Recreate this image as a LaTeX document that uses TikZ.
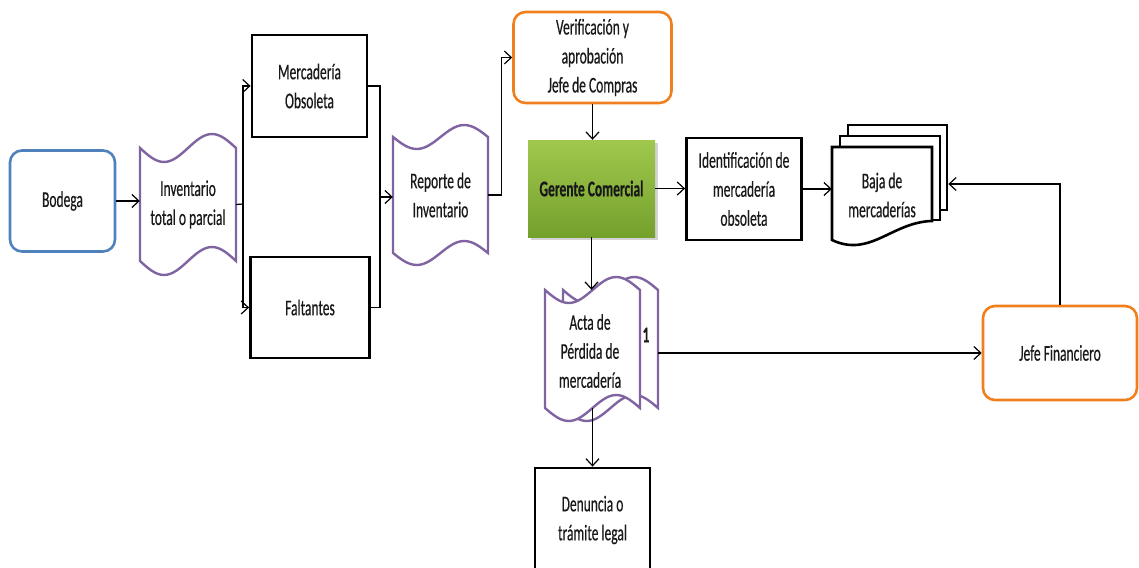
\documentclass[tikz,border=0pt]{standalone}
\usepackage{fontspec}
\setmainfont{Carlito}[FakeStretch=0.6, FakeBold=0.4]
\usetikzlibrary{arrows.meta,shadows}

\definecolor{bodegablue}{RGB}{79,129,189}
\definecolor{tapepurple}{RGB}{128,100,162}
\definecolor{roleorange}{RGB}{240,128,30}
\definecolor{greentop}{RGB}{160,200,78}
\definecolor{greenbot}{RGB}{116,160,44}

\tikzset{
  every node/.style={font=\fontsize{22.5}{29}\selectfont, align=center, inner sep=0pt, text=black!90},
  procbox/.style={draw=black, line width=2.8pt, fill=white},
  roundbox/.style={draw, line width=2.6pt, rounded corners=12pt, fill=white},
  tapeline/.style={draw=tapepurple, line width=2.4pt, fill=white},
  docline/.style={draw=black, line width=2.6pt, fill=white},
  link/.style={draw=black, line width=1.2pt},
  flow/.style={link, -{Straight Barb[length=7pt,width=13pt,line width=1.2pt]}},
}

% punched tape outline: left x, right x, top mid y, bottom mid y, wave amplitude
\newcommand\tapeshape[5]{%
  \pgfmathsetmacro\tqa{#1+(#2-#1)/4}%
  \pgfmathsetmacro\tqb{#1+(#2-#1)/2}%
  \pgfmathsetmacro\tqc{#1+3*(#2-#1)/4}%
  \pgfmathsetmacro\tta{#3+#5}\pgfmathsetmacro\ttb{#3-#5}%
  \pgfmathsetmacro\tba{#4+#5}\pgfmathsetmacro\tbb{#4-#5}%
  \draw[tapeline] (#1,#3) sin (\tqa,\tta) cos (\tqb,#3) sin (\tqc,\ttb) cos (#2,#3)
    -- (#2,#4) sin (\tqc,\tbb) cos (\tqb,#4) sin (\tqa,\tba) cos (#1,#4) -- cycle;
}

\begin{document}
\begin{tikzpicture}[x=1pt,y=-1pt]
\useasboundingbox (0,0) rectangle (1139,567);

% ---- left part: warehouse and inventory ----
\node[roundbox, draw=bodegablue, minimum width=105, minimum height=101] (bodega) at (62.5,201) {Bodega};

\tapeshape{140}{236}{148}{261}{14}
\node[minimum width=96, minimum height=113] (inv) at (188,204.5) {Inventario\\total o parcial};

\node[procbox, minimum width=115, minimum height=102] (merc) at (309.5,86) {Mercadería\\Obsoleta};
\node[procbox, minimum width=119, minimum height=101] (falt) at (310,307.5) {Faltantes};

\tapeshape{393}{488}{137}{253}{12}
\node[minimum width=95, minimum height=116] (rep) at (440.5,195) {Reporte de\\Inventario};

% ---- middle part ----
\node[roundbox, draw=roleorange, minimum width=158, minimum height=91] (verif) at (592.5,57.5)
  {Verificación y\\aprobación\\Jefe de Compras};

\node[top color=greentop, bottom color=greenbot, minimum width=127, minimum height=97,
      drop shadow={shadow xshift=3pt, shadow yshift=-3pt, opacity=0.35}] (ger) at (591.5,188.5)
  {\bfseries Gerente Comercial};

\node[procbox, minimum width=115, minimum height=102] (ident) at (744,189)
  {Identificación de\\mercadería\\obsoleta};

% stack of documents
\node[docline, minimum width=99, minimum height=85] (baja3) at (897.5,167.5) {};
\node[docline, minimum width=100, minimum height=84] (baja2) at (890,178) {};
\draw[docline] (832,147) -- (932,147) -- (932,221)
  .. controls (892,222) and (870,258) .. (832,240) -- cycle;
\node[minimum width=100, minimum height=93] (baja) at (882,195) {Baja de\\mercaderías};

% loss report (two copies)
\tapeshape{563}{658}{290}{408}{13}
\tapeshape{545}{640}{290}{408}{13}
\node[minimum width=113, minimum height=118] (actaback) at (601.5,349) {};
\node[minimum width=95, minimum height=118] (acta) at (592.5,349) {};
\node (actatext) at (590,351) {Acta de\\Pérdida de\\mercadería};
\node[font=\fontsize{22.5}{29}\selectfont\bfseries] (one) at (646,335) {1};

\node[procbox, minimum width=115, minimum height=104] (denuncia) at (592.5,520) {Denuncia o\\trámite legal};

\node[roundbox, draw=roleorange, minimum width=154, minimum height=94] (jefe) at (1060,353) {Jefe Financiero};

% ---- connectors ----
\draw[flow] (bodega.east) -- (bodega.east -| inv.west);

\coordinate (split) at (243,204);
\draw[link] (inv.east) -- (split);
\draw[flow] (split) |- (merc.west);
\draw[flow] (split) |- (falt.west);

\coordinate (join) at (380,197);
\draw[link] (merc.east) -| (join);
\draw[link] (falt.east) -| (join);
\draw[flow] (join) -- (join -| rep.west);

\draw[flow] (rep.east) -- ++(13,0) |- (verif.west);
\draw[flow] (verif.south) -- (verif.south |- ger.north);
\draw[flow] (ger.east) -- (ger.east -| ident.west);
\draw[flow] (ident.east) -- (ident.east -| baja.west);
\draw[flow] (jefe.north) |- ([yshift=-16.5pt]baja3.east);
\draw[flow] (ger.south) -- (ger.south |- acta.north);
\draw[flow] (actaback.east |- jefe.west) -- (jefe.west);
\draw[flow] (acta.south) -- (denuncia.north);
\end{tikzpicture}
\end{document}
